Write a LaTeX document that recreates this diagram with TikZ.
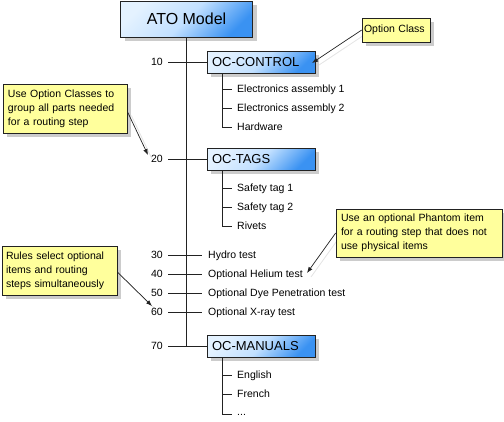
\documentclass[tikz,border=0pt]{standalone}
\usepackage{fontspec}
\setmainfont{Liberation Sans}
\usetikzlibrary{shadows,arrows.meta,backgrounds}
\definecolor{calloutfill}{HTML}{FFFF9C}
\definecolor{linec}{HTML}{222222}
\definecolor{bluelight}{HTML}{E4F2FF}
\definecolor{bluemid}{HTML}{C2E0FF}
\definecolor{bluedark}{HTML}{3A92F2}
\begin{document}
\begin{tikzpicture}[x=1pt,y=-1pt,
  box/.style={draw=linec, line width=0.8pt, top color=bluelight, bottom color=bluedark, middle color=bluemid, shading angle=45,
    drop shadow={shadow xshift=4pt, shadow yshift=-4pt, fill=gray!40, opacity=1}},
  atobox/.style={box, minimum width=132pt, minimum height=36pt, inner sep=0pt,
    font=\fontsize{16}{19}\selectfont, text height=11.5pt, text depth=0pt},
  ocbox/.style={box, text width=98pt, inner xsep=5pt, inner ysep=0pt, minimum height=22pt, align=left,
    font=\fontsize{13}{15}\selectfont, text height=9.3pt, text depth=0pt},
  item/.style={anchor=west, inner sep=0pt, font=\fontsize{10.5}{13}\selectfont, text height=7.5pt, text depth=0pt},
  num/.style={anchor=east, inner sep=0pt, font=\fontsize{10.5}{13}\selectfont, text height=7.5pt, text depth=0pt},
  callout/.style={draw=linec, line width=0.7pt, fill=calloutfill, align=left, inner ysep=0pt,
    drop shadow={shadow xshift=4pt, shadow yshift=-4pt, fill=gray!40, opacity=1},
    font=\fontsize{10.5}{14}\selectfont},
  conn/.style={draw=linec, line width=0.9pt},
  callarrow/.style={draw=linec, line width=0.7pt, -{Latex[length=6pt,width=4.5pt]}},
  arrshadow/.style={draw=gray!22, line width=0.8pt}
]
\useasboundingbox (0,0) rectangle (504,421);

% main box
\node[atobox] (ato) at (186.5,19) {ATO Model};
\coordinate (trunkend) at (186.5,346);
\draw[conn] (ato.south) -- (trunkend);

% option class boxes
\node[ocbox] (occ) at (261,62) {OC-CONTROL};
\node[ocbox] (oct) at (261,159) {OC-TAGS};
\node[ocbox] (ocm) at (261,346) {OC-MANUALS};

% numbers
\node[num] (n10) at (163,62) {10};
\node[num] (n20) at (163,159) {20};
\node[num] (n30) at (163,255) {30};
\node[num] (n40) at (163,274) {40};
\node[num] (n50) at (163,293) {50};
\node[num] (n60) at (163,312) {60};
\node[num] (n70) at (163,346) {70};

% steps
\node[item] (s30) at (208,255) {Hydro test};
\node[item] (s40) at (208,274) {Optional Helium test};
\node[item] (s50) at (208,293) {Optional Dye Penetration test};
\node[item] (s60) at (208,312) {Optional X-ray test};

\draw[conn] ([xshift=5pt]n10.east) -- (occ.west);
\draw[conn] ([xshift=5pt]n20.east) -- (oct.west);
\draw[conn] ([xshift=5pt]n70.east) -- (ocm.west);
\foreach \s in {30,40,50,60}
  \draw[conn] ([xshift=5pt]n\s.east) -- ([xshift=-6pt]s\s.west);

% sub items
\node[item] (i11) at (237,89) {Electronics assembly 1};
\node[item] (i12) at (237,108) {Electronics assembly 2};
\node[item] (i13) at (237,127) {Hardware};
\node[item] (i21) at (237,188) {Safety tag 1};
\node[item] (i22) at (237,207) {Safety tag 2};
\node[item] (i23) at (237,226) {Rivets};
\node[item] (i31) at (237,375) {English};
\node[item] (i32) at (237,394) {French};
\node[item] (i33) at (237,412) {...};

\coordinate (sb1) at (222,127);
\coordinate (sb2) at (222,226);
\coordinate (sb3) at (222,414);
\draw[conn, line join=miter] (occ.south -| sb1) -- (sb1) -- ([xshift=-5pt]i13.west |- sb1);
\draw[conn] (i11.west -| sb1) -- ([xshift=-5pt]i11.west);
\draw[conn] (i12.west -| sb1) -- ([xshift=-5pt]i12.west);
\draw[conn, line join=miter] (oct.south -| sb2) -- (sb2) -- ([xshift=-5pt]i23.west |- sb2);
\draw[conn] (i21.west -| sb2) -- ([xshift=-5pt]i21.west);
\draw[conn] (i22.west -| sb2) -- ([xshift=-5pt]i22.west);
\draw[conn, line join=miter] (ocm.south -| sb3) -- (sb3) -- ([xshift=-5pt]i33.west |- sb3);
\draw[conn] (i31.west -| sb3) -- ([xshift=-5pt]i31.west);
\draw[conn] (i32.west -| sb3) -- ([xshift=-5pt]i32.west);

% callouts
\node[callout, text width=64pt, inner xsep=2pt, minimum height=24pt] (opt) at (396,30) {Option Class};
\node[callout, text width=114pt, inner xsep=5pt, minimum height=49pt] (uoc) at (65,108.5)
  {Use Option Classes to\\group all parts needed\\for a routing step};
\node[callout, text width=156pt, inner xsep=5pt, minimum height=48pt] (ph) at (419,233)
  {Use an optional Phantom item\\for a routing step that does not\\use physical items};
\node[callout, text width=107pt, inner xsep=4pt, minimum height=49pt] (rules) at (59.5,270.5)
  {Rules select optional\\items and routing\\steps simultaneously};

\coordinate (a1) at (312,63);
\coordinate (a2) at (148,155);
\coordinate (a3) at (307,273);
\coordinate (a4) at (152,306);

\begin{scope}[on background layer]
  \draw[arrshadow] ([shift={(4pt,-4pt)}]opt.west) -- ([shift={(4pt,-4pt)}]a1);
  \draw[arrshadow] ([shift={(4pt,-7pt)}]uoc.east) -- ([shift={(4pt,-4pt)}]a2);
  \draw[arrshadow] ([shift={(4pt,-4pt)}]ph.west) -- ([shift={(4pt,-4pt)}]a3);
  \draw[arrshadow] ([shift={(4pt,-5.5pt)}]rules.east) -- ([shift={(4pt,-4pt)}]a4);
\end{scope}

\draw[callarrow] (opt.west) -- (a1);
\draw[callarrow] ([yshift=-3pt]uoc.east) -- (a2);
\draw[callarrow] (ph.west) -- (a3);
\draw[callarrow] ([yshift=-1.5pt]rules.east) -- (a4);
\end{tikzpicture}
\end{document}
